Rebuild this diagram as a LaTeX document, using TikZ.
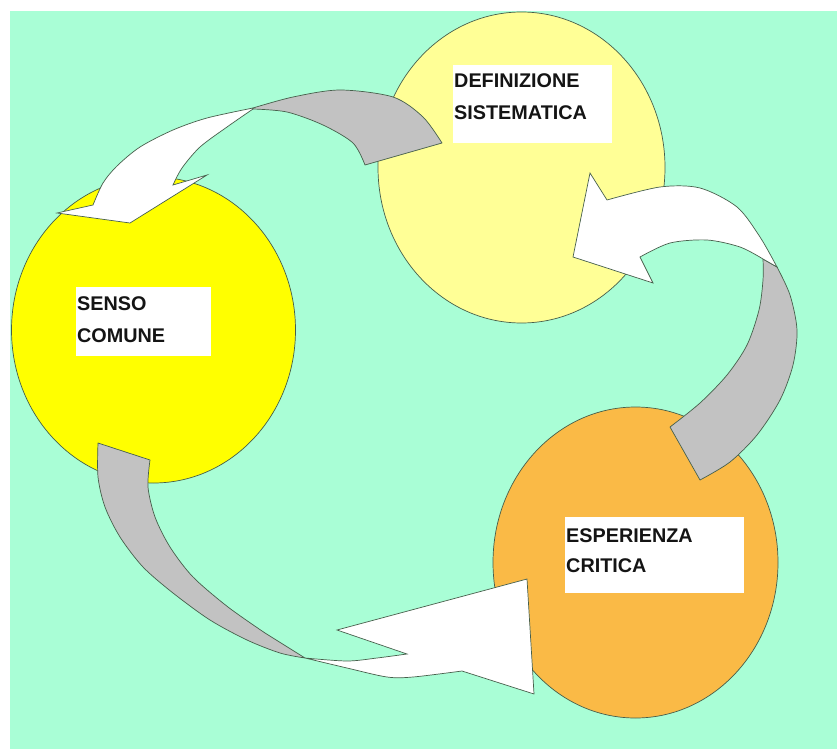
\documentclass[tikz,border=0pt]{standalone}
\usepackage{fontspec}
\setmainfont{Liberation Sans}
\usetikzlibrary{shapes.geometric}
\definecolor{bgmint}{RGB}{169,254,214}
\definecolor{sensocol}{RGB}{255,255,0}
\definecolor{defcol}{RGB}{255,255,150}
\definecolor{espcol}{RGB}{250,186,70}
\definecolor{greypart}{RGB}{194,194,194}
\definecolor{edgecol}{RGB}{70,95,75}
\definecolor{txtcol}{RGB}{20,20,20}
\begin{document}
\begin{tikzpicture}[x=1pt,y=-1pt,
  blob/.style={ellipse, draw=edgecol, line width=0.7pt, inner sep=0pt},
  labelbox/.style={fill=white, inner sep=0pt, anchor=north west},
  lbl/.style={anchor=base west, inner sep=0pt, font=\fontsize{19.8}{20}\selectfont\bfseries, text=txtcol},
  ribbonback/.style={fill=greypart, draw=edgecol, line width=0.7pt, line join=round},
  ribbonfront/.style={fill=white, draw=edgecol, line width=0.7pt, line join=miter}]
\useasboundingbox (0,0) rectangle (837,749);
\fill[white] (0,0) rectangle (837,749);
\fill[bgmint] (10,11) rectangle (837,749);

% circles
\node[blob, fill=sensocol, minimum width=284pt, minimum height=306pt] (senso) at (153.5,330) {};
\node[blob, fill=defcol, minimum width=287pt, minimum height=311pt] (def) at (521.5,167.5) {};
\node[blob, fill=espcol, minimum width=285pt, minimum height=311pt] (esp) at (635.5,562.5) {};

% label boxes
\node[labelbox, minimum width=159pt, minimum height=78pt] (defbox) at (453,65) {};
\node[labelbox, minimum width=135pt, minimum height=69pt] (sensobox) at (76,287) {};
\node[labelbox, minimum width=179pt, minimum height=76pt] (espbox) at (565,517) {};

\node[lbl] (def1) at (454,88) {DEFINIZIONE};
\node[lbl] (def2) at (454,119) {SISTEMATICA};
\node[lbl] (senso1) at (77,310) {SENSO};
\node[lbl] (senso2) at (77,342) {COMUNE};
\node[lbl] (esp1) at (566,542) {ESPERIENZA};
\node[lbl] (esp2) at (566,572) {CRITICA};

% arrow: definizione -> senso comune
\path[ribbonback] plot[smooth] coordinates {(253,108) (293,97) (340,90) (393,97) (423,117) (442,143)}
  -- plot[smooth] coordinates {(365,165) (353,143) (323,125) (287,112) (253,109)} -- cycle;
\path[ribbonfront] plot[smooth] coordinates {(253,109) (227,127) (200,147) (182,168) (173,185)}
  -- (207,175) -- (130,223) -- (57,213)
  -- plot[smooth] coordinates {(93,205) (103,183) (117,166) (140,147) (173,130) (207,118) (253,108)} -- cycle;

% arrow: esperienza critica -> definizione
\path[ribbonback] plot[smooth] coordinates {(777,267) (790,295) (797,330) (793,365) (780,400) (757,435) (730,462) (700,480)}
  -- plot[smooth] coordinates {(670,427) (700,403) (727,375) (747,345) (759,310) (763,280) (763,259)} -- cycle;
\path[ribbonfront] plot[smooth] coordinates {(777,267) (760,237) (737,207) (700,188) (660,187) (607,200)}
  -- (590,173) -- (573,257) -- (653,283)
  -- plot[smooth] coordinates {(640,257) (670,243) (707,240) (740,247) (763,259)} -- cycle;

% arrow: senso comune -> esperienza critica
\path[ribbonback] plot[smooth] coordinates {(98,443) (98,477) (105,507) (120,537) (143,567) (173,593) (210,620) (247,640) (280,653) (305,658)}
  -- plot[smooth] coordinates {(265,633) (228,607) (193,577) (170,547) (155,517) (148,487) (150,460)} -- cycle;
\path[ribbonfront] plot[smooth] coordinates {(305,658) (347,661) (377,658) (407,654)}
  -- (337,630) -- (527,579) -- (534,694)
  -- plot[smooth] coordinates {(462,671) (413,677) (387,677) (347,668) (305,658)} -- cycle;
\end{tikzpicture}
\end{document}
